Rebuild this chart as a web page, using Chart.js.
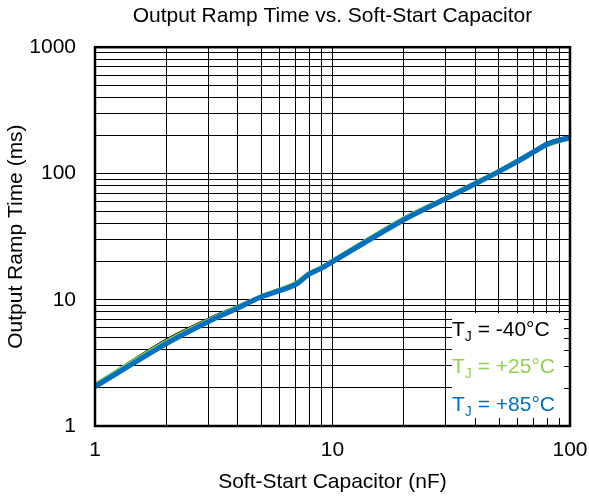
<!DOCTYPE html>
<html>
<head>
<meta charset="utf-8">
<script src="https://cdn.jsdelivr.net/npm/chart.js@4.4.1/dist/chart.umd.min.js"></script>
<style>
  body { margin: 0; background: #fff; }
  #c { display: block; }
</style>
</head>
<body>
<canvas id="c" width="589" height="501"></canvas>
<script>
// Soft-start capacitor (nF)
const capNF = [1, 2, 3, 4, 5, 6, 7, 8, 9, 10, 20, 30, 40, 50, 60, 70, 80, 90, 100];
// Output ramp time (ms) per junction temperature
const rampM40 = [2.1, 4.75, 6.95, 8.8, 10.6, 12.0, 13.5, 16.2, 18.0, 20.3, 44, 64, 84.5, 104, 126, 149, 172, 185, 194];
const rampP25 = [2.12, 4.65, 6.85, 8.75, 10.6, 12.0, 13.5, 16.2, 18.0, 20.3, 44, 64, 84, 104, 125, 148, 168, 180, 190];
const rampP85 = [2.05, 4.5, 6.7, 8.6, 10.5, 11.8, 13.2, 16.0, 17.8, 20.0, 43, 63, 83, 103, 124, 147, 170, 183, 192];
const tempLabels = ['-40°C', '+25°C', '+85°C'];
const colors = ['#000000', '#92D050', '#0070C0'];
const xTickLabels = [1, 10, 100];
const yTickLabels = [1, 10, 100, 1000];

const FONT = 'Liberation Sans, Arial, sans-serif';

function pts(ys) {
    return capNF.map((x, i) => ({ x: x, y: ys[i] }));
}

function logTicks(min, max) {
    const out = [];
    for (let d = min; d < max; d *= 10) {
        for (let m = 1; m < 10; m++) out.push({ value: d * m });
    }
    out.push({ value: max });
    return out;
}

// frame around the plot + legend box in the lower right corner
const framePlugin = {
    id: 'frame',
    afterDatasetsDraw(chart) {
        const { ctx, chartArea: a, scales } = chart;
        ctx.save();

        // legend box
        const bx = 452, by = 313;
        ctx.fillStyle = '#fff';
        ctx.fillRect(bx, by, a.right - bx, a.bottom - by);

        // small inward ticks over the box
        ctx.strokeStyle = '#000';
        ctx.lineWidth = 1;
        ctx.beginPath();
        scales.y.ticks.forEach(t => {
            const py = Math.round(scales.y.getPixelForValue(t.value)) + 0.5;
            if (py > by && py < a.bottom) {
                ctx.moveTo(a.right - 6, py);
                ctx.lineTo(a.right, py);
            }
        });
        scales.x.ticks.forEach(t => {
            const px = Math.round(scales.x.getPixelForValue(t.value)) + 0.5;
            if (px > bx && px < a.right) {
                ctx.moveTo(px, a.bottom - 8);
                ctx.lineTo(px, a.bottom);
            }
        });
        ctx.stroke();

        // legend text
        const baselines = [336, 373, 411];
        ctx.textBaseline = 'alphabetic';
        ctx.textAlign = 'left';
        tempLabels.forEach((lab, i) => {
            ctx.fillStyle = colors[i];
            let x = 452;
            ctx.font = '21px ' + FONT;
            ctx.fillText('T', x, baselines[i]);
            x += ctx.measureText('T').width;
            ctx.font = '14px ' + FONT;
            ctx.fillText('J', x, baselines[i] + 5);
            x += ctx.measureText('J').width;
            ctx.font = '21px ' + FONT;
            ctx.fillText(' = ' + lab, x, baselines[i]);
        });

        // plot border
        ctx.strokeStyle = '#000';
        ctx.lineWidth = 2.5;
        ctx.strokeRect(a.left, a.top, a.right - a.left, a.bottom - a.top);
        ctx.restore();
    }
};

const ctx = document.getElementById('c').getContext('2d');
new Chart(ctx, {
    type: 'line',
    data: {
        datasets: [
            { label: 'TJ = ' + tempLabels[0], data: pts(rampM40), borderColor: colors[0], borderWidth: 4, order: 3 },
            { label: 'TJ = ' + tempLabels[1], data: pts(rampP25), borderColor: colors[1], borderWidth: 4.5, order: 2 },
            { label: 'TJ = ' + tempLabels[2], data: pts(rampP85), borderColor: colors[2], borderWidth: 5, order: 1 }
        ]
    },
    options: {
        responsive: false,
        animation: false,
        devicePixelRatio: 1,
        layout: { padding: { left: 0, right: 19, top: 0, bottom: 0 } },
        elements: {
            point: { radius: 0 },
            line: { tension: 0.3, fill: false, borderCapStyle: 'butt' }
        },
        plugins: {
            legend: { display: false },
            tooltip: { enabled: false },
            title: {
                display: true,
                fullSize: false,
                text: 'Output Ramp Time vs. Soft-Start Capacitor',
                color: '#000',
                font: { family: FONT, size: 21, weight: 'normal' },
                padding: { top: 4, bottom: 18 }
            }
        },
        scales: {
            x: {
                type: 'logarithmic',
                min: 1,
                max: 100,
                afterBuildTicks: s => { s.ticks = logTicks(1, 100); },
                afterFit: s => { s.height = 75; s.paddingLeft = 0; s.paddingRight = 0; },
                grid: { color: '#000', lineWidth: 1, drawTicks: false },
                border: { display: false },
                ticks: {
                    autoSkip: false,
                    maxRotation: 0,
                    padding: 12,
                    color: '#000',
                    font: { family: FONT, size: 21 },
                    callback: v => xTickLabels.includes(v) ? String(v) : ''
                },
                title: {
                    display: true,
                    text: 'Soft-Start Capacitor (nF)',
                    color: '#000',
                    font: { family: FONT, size: 21 },
                    padding: { top: 0, bottom: 6 }
                }
            },
            y: {
                type: 'logarithmic',
                min: 1,
                max: 1000,
                afterBuildTicks: s => { s.ticks = logTicks(1, 1000); },
                afterFit: s => { s.width = 95; s.paddingTop = 0; s.paddingBottom = 0; },
                grid: { color: '#000', lineWidth: 1, drawTicks: false },
                border: { display: false },
                ticks: {
                    autoSkip: false,
                    padding: 19,
                    color: '#000',
                    font: { family: FONT, size: 21 },
                    callback: v => yTickLabels.includes(v) ? String(v) : ''
                },
                title: {
                    display: true,
                    text: 'Output Ramp Time (ms)',
                    color: '#000',
                    font: { family: FONT, size: 21 },
                    padding: { top: 4, bottom: 0 }
                }
            }
        }
    },
    plugins: [framePlugin]
});
</script>
</body>
</html>
